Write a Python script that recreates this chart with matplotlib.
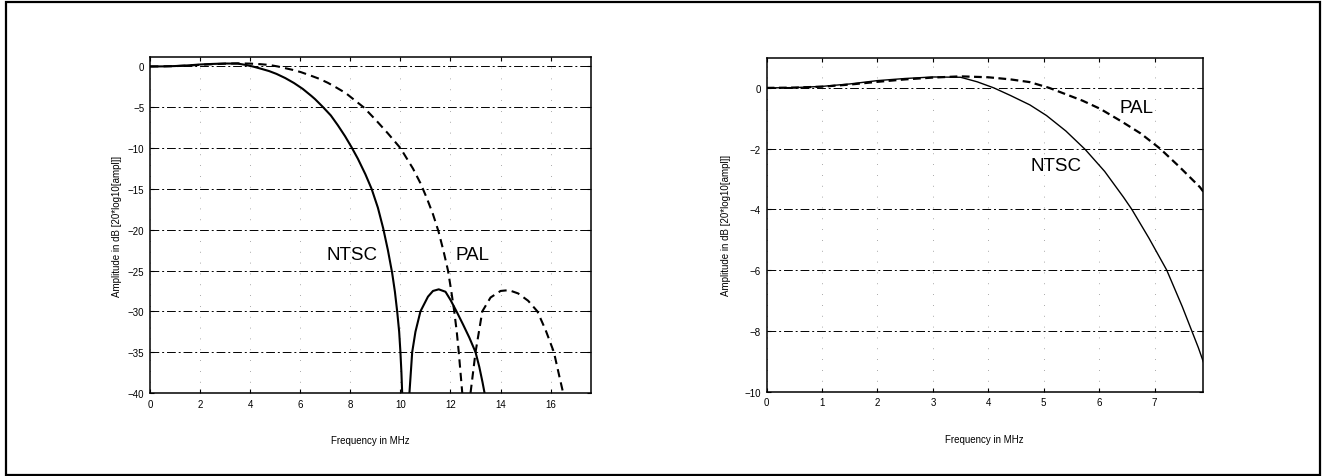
import matplotlib
matplotlib.use("Agg")
import matplotlib.pyplot as plt
from matplotlib.patches import Rectangle

# ---------------------------------------------------------
# DATA (frequency in MHz, amplitude in dB)
# ---------------------------------------------------------
NTSC_F = [0.0, 0.5, 1.0, 1.5, 2.0, 2.5, 3.0, 3.5, 3.8, 4.1, 4.4, 4.75, 5.05,
          5.4, 5.75, 6.1, 6.44, 6.59, 6.9, 7.22, 7.5, 7.79, 8.05, 8.3, 8.6,
          8.85, 9.1, 9.31, 9.5, 9.67, 9.78, 9.87, 9.95, 10.0, 10.04, 10.07]
NTSC_DB = [0.0, 0.01, 0.05, 0.13, 0.24, 0.31, 0.36, 0.35, 0.2, 0.0, -0.25,
           -0.56, -0.91, -1.42, -2.03, -2.75, -3.6, -4.0, -4.95, -6.0, -7.2,
           -8.55, -9.9, -11.3, -13.2, -15.0, -17.3, -19.8, -22.5, -25.3,
           -27.6, -30.0, -32.5, -35.0, -37.5, -40.0]

NTSC_LOBE_F = [10.36, 10.47, 10.6, 10.8, 11.1, 11.3, 11.53, 11.8, 12.0, 12.24,
               12.5, 12.75, 13.0, 13.15, 13.28, 13.36]
NTSC_LOBE_DB = [-40.0, -35.0, -32.5, -30.0, -28.2, -27.5, -27.3, -27.6, -28.6,
                -30.0, -31.6, -33.2, -35.0, -36.8, -38.7, -40.0]

PAL_F = [0.0, 0.5, 1.0, 1.5, 2.0, 2.5, 3.0, 3.5, 4.0, 4.4, 4.75, 5.1, 5.3,
         5.7, 6.02, 6.4, 6.75, 7.1, 7.45, 7.82, 8.2, 8.53, 9.0, 9.5, 10.0,
         10.5, 10.8, 11.05, 11.3, 11.52, 11.72, 11.9, 12.03, 12.15, 12.25,
         12.33, 12.4, 12.47]
PAL_DB = [0.0, 0.01, 0.04, 0.11, 0.2, 0.28, 0.34, 0.38, 0.35, 0.28, 0.19, 0.0,
          -0.14, -0.42, -0.69, -1.1, -1.5, -2.0, -2.6, -3.27, -4.2, -5.0, -6.5,
          -8.2, -10.0, -12.5, -14.3, -16.1, -18.1, -20.2, -22.6, -25.0, -27.5,
          -30.0, -32.5, -35.0, -37.5, -40.0]

PAL_LOBE_F = [12.8, 13.0, 13.27, 13.6, 14.0, 14.33, 14.7, 15.1, 15.47, 15.8,
              16.13, 16.35, 16.5]
PAL_LOBE_DB = [-40.0, -35.0, -30.0, -28.3, -27.5, -27.4, -27.8, -28.7, -30.0,
               -32.3, -35.0, -38.0, -40.0]

LEFT_XTICKS = [0, 2, 4, 6, 8, 10, 12, 14, 16]
LEFT_YTICKS = [0, -5, -10, -15, -20, -25, -30, -35, -40]
RIGHT_XTICKS = [0, 1, 2, 3, 4, 5, 6, 7]
RIGHT_YTICKS = [0, -2, -4, -6, -8, -10]

XLABEL = "Frequency in MHz"
YLABEL = "Amplitude in dB [20*log10[ampl]]"

# ---------------------------------------------------------
# STYLE
# ---------------------------------------------------------
plt.rcParams["font.family"] = ["Liberation Sans", "DejaVu Sans"]
TICK_FS = 7
LABEL_FS = 7
NAME_FS = 13.5


def style_axes(ax, xticks, yticks, ypad):
    ax.set_xticks(xticks)
    ax.set_yticks(yticks)
    ax.tick_params(direction="in", length=3, width=0.8, top=True, right=True,
                   labelsize=TICK_FS, pad=4)
    for s in ax.spines.values():
        s.set_linewidth(1.1)
    # horizontal grid like the old printout: broken dash-dot lines
    ax.yaxis.grid(True, color="black", linewidth=0.7,
                  linestyle=(0, (9, 3, 2, 3)))
    ax.xaxis.grid(True, color="0.55", linewidth=0.6, linestyle=(0, (1, 12)))
    ax.set_xlabel(XLABEL, fontsize=LABEL_FS, labelpad=19)
    ax.set_ylabel(YLABEL, fontsize=LABEL_FS, labelpad=ypad)


fig = plt.figure(figsize=(13.23, 4.77), dpi=100)

# outer frame around the whole figure
fig.patches.append(Rectangle((0.0045, 0.002), 0.9932, 0.9916,
                             transform=fig.transFigure, fill=False,
                             edgecolor="black", linewidth=1.6))

# ---------------------------------------------------------
# LEFT: full range
# ---------------------------------------------------------
ax1 = fig.add_axes([0.1134, 0.174, 0.3331, 0.7034])
ax1.plot(NTSC_F, NTSC_DB, color="black", linewidth=1.5)
ax1.plot(NTSC_LOBE_F, NTSC_LOBE_DB, color="black", linewidth=1.5)
ax1.plot(PAL_F, PAL_DB, color="black", linewidth=1.5, linestyle=(0, (4, 2.5)))
ax1.plot(PAL_LOBE_F, PAL_LOBE_DB, color="black", linewidth=1.5,
         linestyle=(0, (4, 2.5)))
ax1.set_xlim(0, 17.6)
ax1.set_ylim(-40, 1.1)
style_axes(ax1, LEFT_XTICKS, LEFT_YTICKS, 4)
ax1.text(8.07, -23.0, "NTSC", fontsize=NAME_FS, ha="center", va="center")
ax1.text(12.87, -23.0, "PAL", fontsize=NAME_FS, ha="center", va="center")

# ---------------------------------------------------------
# RIGHT: passband zoom
# ---------------------------------------------------------
ax2 = fig.add_axes([0.5795, 0.177, 0.3296, 0.7003])
ax2.plot(NTSC_F, NTSC_DB, color="black", linewidth=1.0)
ax2.plot(PAL_F, PAL_DB, color="black", linewidth=1.6, linestyle=(0, (3.5, 2)))
ax2.set_xlim(0, 7.87)
ax2.set_ylim(-10, 1)
style_axes(ax2, RIGHT_XTICKS, RIGHT_YTICKS, 10)
ax2.text(5.23, -2.56, "NTSC", fontsize=NAME_FS, ha="center", va="center")
ax2.text(6.68, -0.64, "PAL", fontsize=NAME_FS, ha="center", va="center")

fig.savefig("out.png", dpi=100)
plt.close(fig)
